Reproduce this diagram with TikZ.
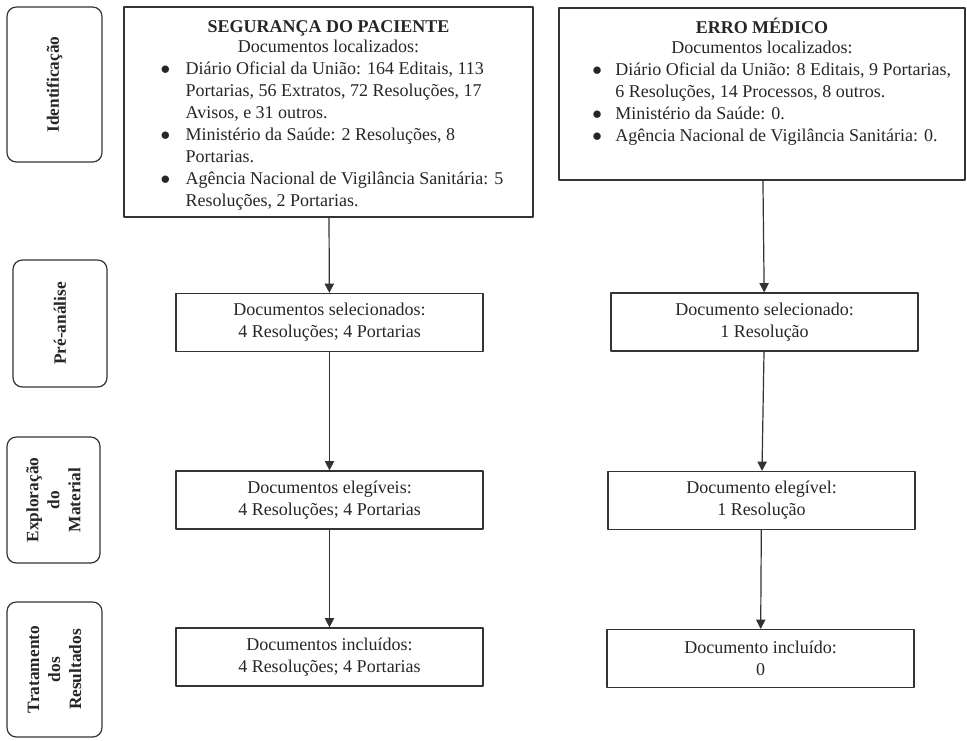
\documentclass[tikz,border=0pt]{standalone}
\usepackage{fontspec}
\setmainfont{Liberation Serif}
\usetikzlibrary{arrows.meta}

\begin{document}
\begin{tikzpicture}[x=0.75pt, y=-0.75pt, line join=round, >={Triangle[length=7pt,width=7pt]},
	fase/.style={draw=black!80, line width=0.9pt, rounded corners=7pt, rotate=90, align=center, inner sep=0pt, text=black!85, font=\fontsize{13}{15.75}\selectfont\bfseries},
	topo/.style={draw=black!80, line width=0.9pt, inner sep=0pt, text=black!85, font=\fontsize{13.5}{16.5}\selectfont},
	caixa/.style={draw=black!80, line width=0.9pt, align=center, inner sep=0pt, minimum width=230.25pt, minimum height=43.5pt, text=black!85, font=\fontsize{13.5}{16.5}\selectfont}]
	\useasboundingbox (0,0) rectangle (967,740);
	\node[fase, minimum width=116.25pt, minimum height=71.25pt] (ident) at (54.5,84.5) {Identificação};
	\node[fase, minimum width=95.25pt, minimum height=70.5pt] (pre) at (60,323.5) {Pré-análise};
	\node[fase, minimum width=94.5pt, minimum height=69.75pt] (expl) at (53.5,500) {Exploração\\do\\Material};
	\node[fase, minimum width=101.25pt, minimum height=71.25pt] (trat) at (54.5,669.5) {Tratamento\\dos\\Resultados};
	\node[topo] (sp) at (328.5,112) {\parbox[c][157.5pt][t]{306.75pt}{{\centering\vspace*{7.8pt}%
		\textbf{SEGURANÇA DO PACIENTE}\strut\\[-1.5pt]
		Documentos localizados:\par}
		\noindent\hspace*{27.4pt}\begin{tabular}[t]{@{}l@{\hspace{11.6pt}}l@{}}
			$\bullet$ & Diário Oficial da União: 164 Editais, 113\\
			& Portarias, 56 Extratos, 72 Resoluções, 17\\
			& Avisos, e 31 outros.\\
			$\bullet$ & Ministério da Saúde: 2 Resoluções, 8\\
			& Portarias.\\
			$\bullet$ & Agência Nacional de Vigilância Sanitária: 5\\
			& Resoluções, 2 Portarias.
		\end{tabular}}};
	\node[topo] (em) at (762,94) {\parbox[c][129pt][t]{304.5pt}{{\centering\vspace*{7.8pt}%
		\textbf{ERRO MÉDICO}\strut\\[-1.5pt]
		Documentos localizados:\par}
		\noindent\hspace*{25pt}\begin{tabular}[t]{@{}l@{\hspace{10pt}}l@{}}
			$\bullet$ & Diário Oficial da União: 8 Editais, 9 Portarias,\\
			& 6 Resoluções, 14 Processos, 8 outros.\\
			$\bullet$ & Ministério da Saúde: 0.\\
			$\bullet$ & Agência Nacional de Vigilância Sanitária: 0.
		\end{tabular}}};
	\node[caixa] (sppre) at (329.5,322.5) {Documentos selecionados:\\4 Resoluções; 4 Portarias};
	\node[caixa] (spele) at (329.5,500) {Documentos elegíveis:\\4 Resoluções; 4 Portarias};
	\node[caixa] (spinc) at (329.5,657) {Documentos incluídos:\\4 Resoluções; 4 Portarias};
	\node[caixa] (empre) at (764.5,322) {Documento selecionado:\\1 Resolução};
	\node[caixa] (emele) at (761.5,500.5) {Documento elegível:\\1 Resolução};
	\node[caixa] (eminc) at (760.5,658.5) {Documento incluído:\\0};
	\foreach \de/\para in {sp/sppre, sppre/spele, spele/spinc, em/empre, empre/emele, emele/eminc}
	\draw[->, line width=0.9pt, draw=black!80] (\de) -- (\para);
\end{tikzpicture}
\end{document}
